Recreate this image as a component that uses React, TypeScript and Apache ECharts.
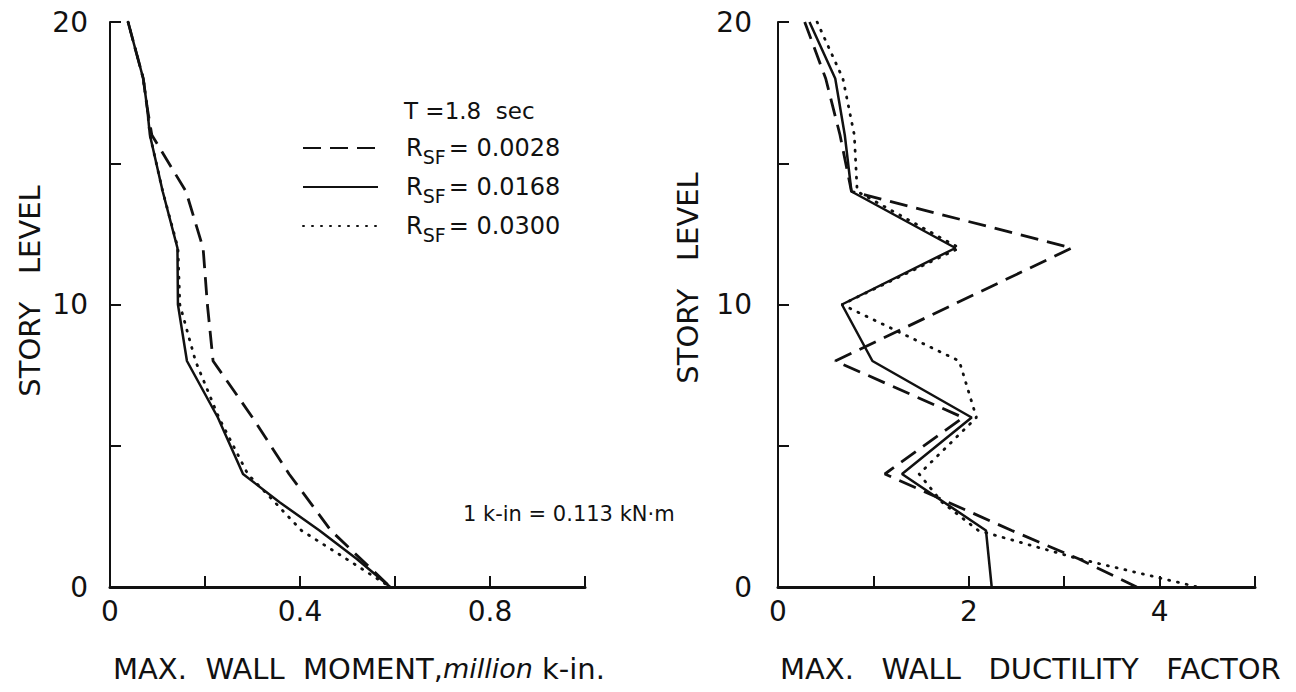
import React, { useEffect, useRef } from 'react';
import * as echarts from 'echarts';

// ---- data ----
const legendValues = ['0.0028', '0.0168', '0.0300'];
const seriesNames = legendValues.map((v) => `RSF = ${v}`);

const storyTickLabels = ['0', '10', '20'];
const momentTickLabels = ['0', '0.4', '0.8'];
const ductilityTickLabels = ['0', '2', '4'];

// Left panel: max. wall moment (million k-in.)
const momentDashedStories = [20, 18, 17, 16, 14, 12, 10, 8, 6, 4, 2, 0];
const momentDashed = [0.038, 0.07, 0.078, 0.088, 0.16, 0.196, 0.205, 0.217, 0.3, 0.377, 0.465, 0.59];
const momentSolidStories = [20, 18, 17, 16, 14, 12, 10, 8, 6, 4, 3, 2, 1, 0];
const momentSolid = [0.038, 0.07, 0.078, 0.084, 0.111, 0.142, 0.143, 0.162, 0.227, 0.28, 0.357, 0.441, 0.519, 0.59];
const momentDottedStories = [20, 18, 17, 16, 14, 12, 10, 8, 6, 4, 3, 2, 1, 0];
const momentDotted = [0.038, 0.07, 0.078, 0.084, 0.111, 0.143, 0.147, 0.18, 0.229, 0.29, 0.347, 0.403, 0.497, 0.59];

// Right panel: max. wall ductility factor
const ductDashedStories = [20, 18, 16, 14, 12, 8, 6, 4, 2, 1, 0];
const ductDashed = [0.28, 0.5, 0.65, 0.77, 3.08, 0.6, 1.94, 1.12, 2.45, 3.15, 3.76];
const ductSolidStories = [20, 18, 16, 14, 12, 10, 8, 6, 4, 2, 0];
const ductSolid = [0.33, 0.6, 0.7, 0.77, 1.86, 0.67, 0.99, 2.03, 1.3, 2.18, 2.24];
const ductDottedStories = [20, 18, 16, 14, 12, 10, 8, 6, 4, 3, 2, 1, 0];
const ductDotted = [0.41, 0.68, 0.8, 0.83, 1.9, 0.67, 1.9, 2.08, 1.48, 1.72, 2.1, 3.15, 4.4];

const FONT = 'DejaVu Sans';
const INK = '#111';

const pairs = (xs: number[], ys: number[]) => xs.map((x, i) => [x, ys[i]]);

const lineStyles = [
  { color: INK, width: 2.8, type: [18, 9] as any },
  { color: INK, width: 2.5, type: 'solid' as any },
  { color: INK, width: 2.8, type: [1, 8] as any, cap: 'round' as any },
];

const labelFmt = (labels: string[]) => (v: number) => {
  const s = String(+Number(v).toFixed(4));
  return labels.includes(s) ? s : '';
};

export default function App() {
  const ref = useRef<HTMLDivElement>(null);

  useEffect(() => {
    if (!ref.current) return;
    const chart = echarts.init(ref.current, undefined, { renderer: 'svg' });

    const axisLineX = { show: true, lineStyle: { color: INK, width: 3 } };
    const axisLineY = { show: true, lineStyle: { color: INK, width: 2 } };
    const tickStyle = { show: true, inside: true, length: 11, lineStyle: { color: INK, width: 2 } };
    const labelStyle = { color: INK, fontFamily: FONT, fontSize: 28 };

    const leftData = [
      pairs(momentDashed, momentDashedStories),
      pairs(momentSolid, momentSolidStories),
      pairs(momentDotted, momentDottedStories),
    ];
    const rightData = [
      pairs(ductDashed, ductDashedStories),
      pairs(ductSolid, ductSolidStories),
      pairs(ductDotted, ductDottedStories),
    ];

    const series: any[] = [];
    [leftData, rightData].forEach((panel, p) => {
      panel.forEach((d, i) => {
        series.push({
          type: 'line',
          name: seriesNames[i],
          xAxisIndex: p,
          yAxisIndex: p,
          data: d,
          symbol: 'none',
          showSymbol: false,
          lineStyle: lineStyles[i],
          itemStyle: { color: INK },
          silent: true,
        });
      });
    });

    chart.setOption({
      animation: false,
      backgroundColor: '#fff',
      grid: [
        { left: 110, top: 22, width: 475, height: 565 },
        { left: 778, top: 22, width: 477, height: 565 },
      ],
      xAxis: [
        {
          type: 'value', gridIndex: 0, min: 0, max: 1, interval: 0.2,
          axisLine: axisLineX, axisTick: tickStyle, splitLine: { show: false },
          axisLabel: { ...labelStyle, margin: 10, formatter: labelFmt(momentTickLabels) },
        },
        {
          type: 'value', gridIndex: 1, min: 0, max: 5, interval: 1,
          axisLine: axisLineX, axisTick: tickStyle, splitLine: { show: false },
          axisLabel: { ...labelStyle, margin: 10, formatter: labelFmt(ductilityTickLabels) },
        },
      ],
      yAxis: [
        {
          type: 'value', gridIndex: 0, min: 0, max: 20, interval: 5,
          axisLine: axisLineY, axisTick: tickStyle, splitLine: { show: false },
          axisLabel: { ...labelStyle, margin: 22, formatter: labelFmt(storyTickLabels) },
        },
        {
          type: 'value', gridIndex: 1, min: 0, max: 20, interval: 5,
          axisLine: axisLineY, axisTick: tickStyle, splitLine: { show: false },
          axisLabel: { ...labelStyle, margin: 26, formatter: labelFmt(storyTickLabels) },
        },
      ],
      legend: {
        orient: 'vertical',
        left: 302,
        top: 136,
        padding: 0,
        itemGap: 9,
        itemWidth: 75,
        itemHeight: 2,
        itemStyle: { opacity: 0 },
        selectedMode: false,
        data: seriesNames,
        formatter: (name: string) => {
          const v = legendValues[seriesNames.indexOf(name)];
          return `{r|R}{s|SF}{e|= ${v}}`;
        },
        textStyle: {
          color: INK,
          fontFamily: FONT,
          rich: {
            r: { fontSize: 24, lineHeight: 36, padding: [0, 0, 0, 23], fontFamily: FONT, color: INK },
            s: { fontSize: 19, lineHeight: 16, verticalAlign: 'bottom', fontFamily: FONT, color: INK },
            e: { fontSize: 24, lineHeight: 36, fontFamily: FONT, color: INK, padding: [0, 0, 0, 3] },
          },
        },
      },
      graphic: [
        {
          type: 'text', left: 404, top: 99,
          style: { text: 'T =1.8  sec', font: `23px "${FONT}"`, fill: INK },
        },
        {
          type: 'text', left: 463, top: 503,
          style: { text: '1 k-in = 0.113 kN·m', font: `21px "${FONT}"`, fill: INK },
        },
        {
          type: 'text', left: 113, top: 654,
          style: {
            text: '{a|MAX.  WALL  MOMENT,}{b|million}{a| k-in.}',
            rich: {
              a: { fontSize: 29, fontFamily: FONT, color: INK },
              b: { fontSize: 27, fontFamily: FONT, fontStyle: 'italic', color: INK },
            },
            fill: INK,
          },
        },
        {
          type: 'text', left: 780, top: 654,
          style: { text: 'MAX.   WALL   DUCTILITY   FACTOR', font: `29px "${FONT}"`, fill: INK },
        },
        {
          type: 'text', x: 30, y: 291, rotation: Math.PI / 2,
          style: { text: 'STORY   LEVEL', font: `29px "${FONT}"`, fill: INK, align: 'center', verticalAlign: 'middle' },
        },
        {
          type: 'text', x: 688, y: 278, rotation: Math.PI / 2,
          style: { text: 'STORY   LEVEL', font: `29px "${FONT}"`, fill: INK, align: 'center', verticalAlign: 'middle' },
        },
      ],
      series,
    });

    return () => chart.dispose();
  }, []);

  return (
    <div
      ref={ref}
      style={{ position: 'fixed', left: 0, top: 0, width: 1296, height: 692, background: '#fff' }}
    />
  );
}
